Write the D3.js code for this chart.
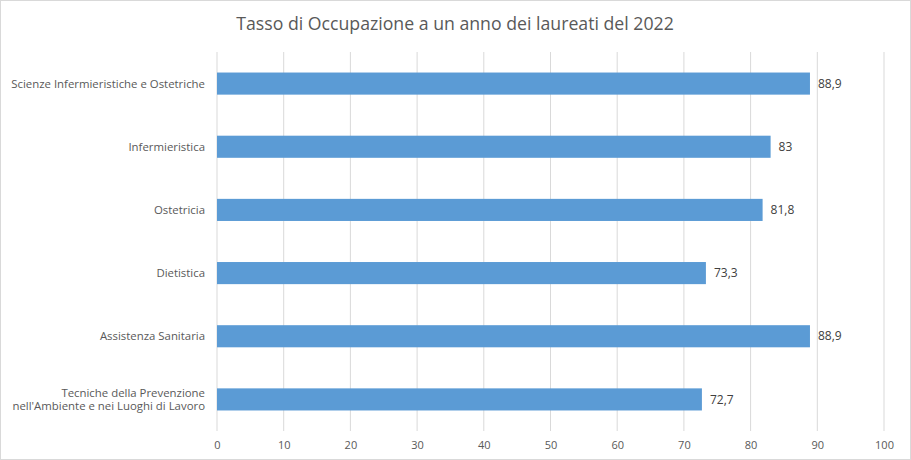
<!DOCTYPE html>
<html>
<head>
    <meta charset='utf-8'>
    <title>Tasso di Occupazione</title>
    <script src='https://cdn.jsdelivr.net/npm/d3@7'></script>
    <style>
        body { margin: 0; background: #fff; }
        text { font-family: 'Open Sans', sans-serif; }
    </style>
</head>
<body>
    <svg width='911' height='460'></svg>
    <script>
        const categories = [
            'Scienze Infermieristiche e Ostetriche',
            'Infermieristica',
            'Ostetricia',
            'Dietistica',
            'Assistenza Sanitaria',
            ["Tecniche della Prevenzione", "nell'Ambiente e nei Luoghi di Lavoro"]
        ]
        const values = [88.9, 83, 81.8, 73.3, 88.9, 72.7]
        const ticks = [0, 10, 20, 30, 40, 50, 60, 70, 80, 90, 100]

        const svg = d3.select('svg')
        const W = 911, H = 460

        // cornice del grafico
        svg.append('rect')
            .attr('x', 0.5).attr('y', 0.5)
            .attr('width', W - 1).attr('height', H - 1)
            .attr('fill', '#fff').attr('stroke', '#d9d9d9')

        svg.append('text')
            .attr('x', 455).attr('y', 30)
            .attr('text-anchor', 'middle')
            .attr('fill', '#595959')
            .style('font-size', '17.7px')
            .text('Tasso di Occupazione a un anno dei laureati del 2022')

        const x = d3.scaleLinear().domain([0, 100]).range([217, 884])
        const y = d3.scaleBand()
            .domain(d3.range(categories.length))
            .range([52, 431])
            .paddingInner(0.65)
            .paddingOuter(0.325)

        // griglia verticale
        svg.append('g').selectAll('line')
            .data(ticks)
            .join('line')
            .attr('x1', d => x(d)).attr('x2', d => x(d))
            .attr('y1', 52).attr('y2', 431)
            .attr('stroke', '#d9d9d9')

        // asse x
        const xAxis = svg.append('g')
            .attr('transform', 'translate(0,431)')
            .call(d3.axisBottom(x).tickValues(ticks).tickSize(0).tickPadding(10))
        xAxis.select('.domain').remove()
        xAxis.selectAll('text')
            .attr('fill', '#595959')
            .style('font-size', '11px')
            .style('font-family', "'Open Sans', sans-serif")

        // barre
        svg.append('g').selectAll('rect')
            .data(values)
            .join('rect')
            .attr('x', x(0))
            .attr('y', (d, i) => y(i))
            .attr('width', d => x(d) - x(0))
            .attr('height', y.bandwidth())
            .attr('fill', '#5b9bd5')

        // etichette valori
        svg.append('g').selectAll('text')
            .data(values)
            .join('text')
            .attr('x', d => x(d) + 8)
            .attr('y', (d, i) => y(i) + y.bandwidth() / 2)
            .attr('dy', '0.35em')
            .attr('fill', '#404040')
            .style('font-size', '12px')
            .text(d => d3.format('.1~f')(d).replace('.', ','))

        // etichette categorie
        const cat = svg.append('g').selectAll('text')
            .data(categories)
            .join('text')
            .attr('x', 205)
            .attr('y', (d, i) => y(i) + y.bandwidth() / 2)
            .attr('text-anchor', 'end')
            .attr('fill', '#595959')
            .style('font-size', '11.4px')
        cat.each(function (d) {
            const lines = Array.isArray(d) ? d : [d]
            const t = d3.select(this)
            lines.forEach((l, k) => {
                t.append('tspan')
                    .attr('x', 205)
                    .attr('dy', k === 0 ? (0.35 - (lines.length - 1) * 0.6) + 'em' : '1.2em')
                    .text(l)
            })
        })
    </script>
</body>
</html>
